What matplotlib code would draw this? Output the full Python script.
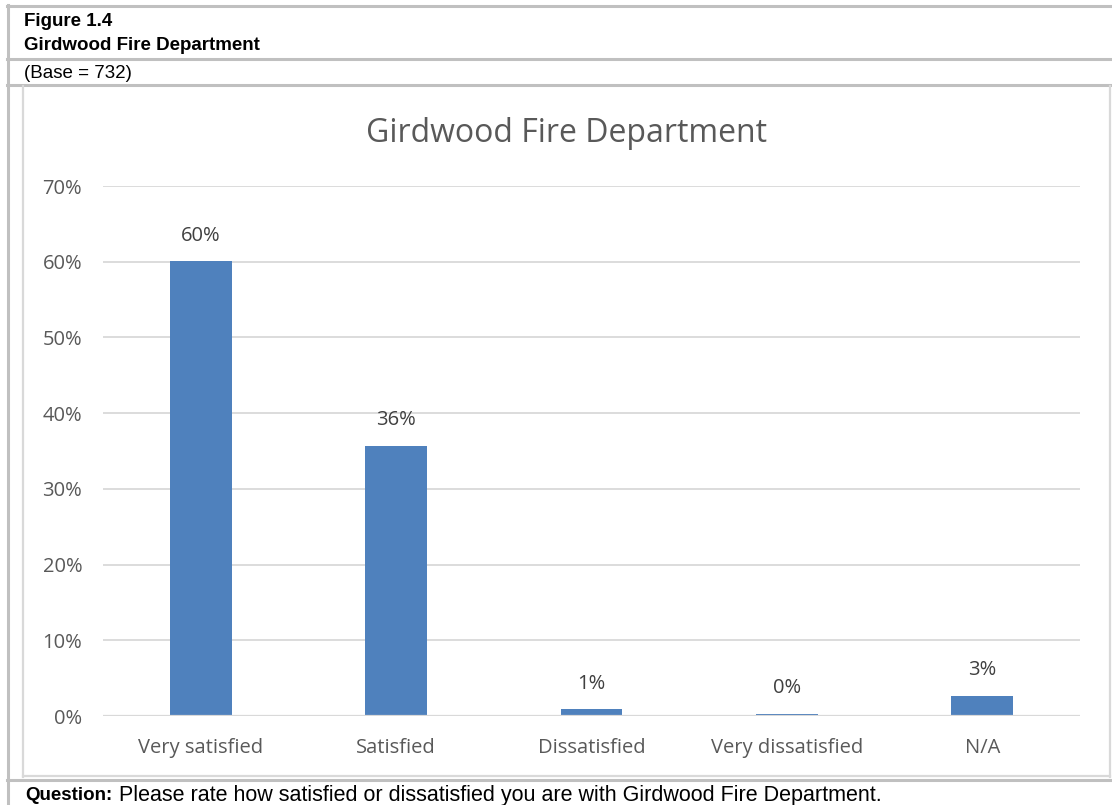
import matplotlib
matplotlib.use('Agg')
import matplotlib.pyplot as plt
from matplotlib.lines import Line2D

categories = ['Very satisfied', 'Satisfied', 'Dissatisfied', 'Very dissatisfied', 'N/A']
values = [0.601, 0.357, 0.009, 0.003, 0.027]
labels = ['60%', '36%', '1%', '0%', '3%']
yticks = [0, 0.1, 0.2, 0.3, 0.4, 0.5, 0.6, 0.7]

W, H = 1112, 805
fig = plt.figure(figsize=(W / 100, H / 100), dpi=100)
fig.patch.set_facecolor('white')

def px(x, y):
    return x / W, 1 - y / H

def hline(y, x0, x1, color, lw):
    a, b = px(x0, y)
    c, _ = px(x1, y)
    fig.add_artist(Line2D([a, c], [b, b], color=color, lw=lw, transform=fig.transFigure))

def vline(x, y0, y1, color, lw):
    a, b = px(x, y0)
    _, d = px(x, y1)
    fig.add_artist(Line2D([a, a], [b, d], color=color, lw=lw, transform=fig.transFigure))

outer = '#c0c0c0'
inner = '#d9d9d9'
hline(6, 7, 1112, outer, 2.2)
hline(59.5, 7, 1112, outer, 2.2)
hline(85, 7, 1112, outer, 2.2)
hline(780, 7, 1112, outer, 2.2)
vline(8, 5, 805, outer, 2.2)
# inner chart frame
vline(23, 86, 777, inner, 1.6)
vline(1110, 86, 777, inner, 1.6)
hline(776, 23, 1110, inner, 1.6)

hfont = 'Liberation Sans'
fig.text(*px(24, 21), 'Figure 1.4', fontsize=13.5, fontweight='bold', family=hfont, va='center')
fig.text(*px(24, 46), 'Girdwood Fire Department', fontsize=13.5, fontweight='bold', family=hfont, va='center')
fig.text(*px(24, 73), '(Base = 732)', fontsize=13.5, family=hfont, va='center')
fig.text(*px(25, 795), 'Question:', fontsize=13.5, fontweight='bold', family=hfont, va='center')
fig.text(*px(119, 795), 'Please rate how satisfied or dissatisfied you are with Girdwood Fire Department.',
         fontsize=15.5, family=hfont, va='center')

left, bottom = px(103, 716)
right, top = px(1080, 186)
ax = fig.add_axes([left, bottom, right - left, top - bottom])

cfont = 'Open Sans'
textc = '#595959'
x = range(len(categories))
ax.bar(x, values, width=0.317, color='#4f81bd', zorder=3)
for xi, v, lab in zip(x, values, labels):
    ax.annotate(lab, (xi, v), xytext=(0, 11), textcoords='offset points', ha='center', va='bottom',
                fontsize=14.5, color='#404040', family=cfont)

ax.set_xlim(-0.5, len(categories) - 0.5)
ax.set_ylim(0, 0.7)
ax.set_yticks(yticks)
ax.set_yticklabels([f'{int(round(v * 100))}%' for v in yticks], fontsize=14.5, color=textc, family=cfont)
ax.set_xticks(list(x))
ax.set_xticklabels(categories, fontsize=14.5, color=textc, family=cfont)
ax.tick_params(length=0)
ax.tick_params(axis='x', pad=16)
ax.tick_params(axis='y', pad=15)
ax.grid(axis='y', color=inner, lw=1.3, zorder=0)
for s in ax.spines.values():
    s.set_visible(False)
ax.axhline(0, color=inner, lw=1.6, zorder=4)

fig.text(*px(566, 133), 'Girdwood Fire Department', fontsize=23, color=textc, family=cfont,
         ha='center', va='center')

fig.savefig('out.png', dpi=100)
